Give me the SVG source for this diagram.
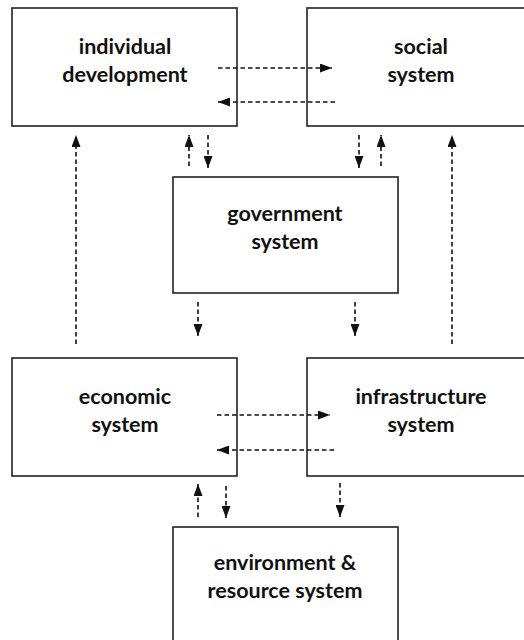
<svg xmlns="http://www.w3.org/2000/svg" width="524" height="640" viewBox="0 0 524 640">
<style>
.box{fill:#fff;stroke:#222;stroke-width:1.6}
.t{font-family:Lato,"Open Sans","Liberation Sans",sans-serif;font-weight:700;font-size:21.5px;fill:#111;text-anchor:middle}
.c{fill:none;stroke:#111;stroke-width:1.6;stroke-dasharray:4.5 3}
</style>
<defs>
<marker id="ah" viewBox="0 0 12 9" refX="12" refY="4.5" markerWidth="12" markerHeight="9" markerUnits="userSpaceOnUse" orient="auto">
<path d="M0,0 L12,4.5 L0,9 Z" fill="#111"/>
</marker>
</defs>
<rect width="524" height="640" fill="#fff"/>
<g id="individual">
<rect class="box" x="12" y="8" width="225" height="118"/>
<text class="t" x="125" y="54">individual</text>
<text class="t" x="125" y="82">development</text>
</g>
<g id="social">
<rect class="box" x="307" y="8" width="226" height="118"/>
<text class="t" x="421" y="54">social</text>
<text class="t" x="421" y="82">system</text>
</g>
<g id="government">
<rect class="box" x="173" y="177" width="225" height="116"/>
<text class="t" x="285" y="221">government</text>
<text class="t" x="285" y="249">system</text>
</g>
<g id="economic">
<rect class="box" x="12" y="358" width="225" height="118"/>
<text class="t" x="125" y="404">economic</text>
<text class="t" x="125" y="432">system</text>
</g>
<g id="infrastructure">
<rect class="box" x="307" y="358" width="226" height="118"/>
<text class="t" x="421" y="404">infrastructure</text>
<text class="t" x="421" y="432">system</text>
</g>
<g id="environment">
<rect class="box" x="173" y="527" width="225" height="125"/>
<text class="t" x="285" y="570">environment &amp;</text>
<text class="t" x="285" y="598">resource system</text>
</g>
<g id="connectors">
<line class="c" x1="218" y1="68" x2="332" y2="68" marker-end="url(#ah)"/>
<line class="c" x1="335" y1="102" x2="218" y2="102" marker-end="url(#ah)"/>
<line class="c" x1="189" y1="166" x2="189" y2="135" marker-end="url(#ah)"/>
<line class="c" x1="208" y1="135" x2="208" y2="168" marker-end="url(#ah)"/>
<line class="c" x1="359" y1="135" x2="359" y2="168" marker-end="url(#ah)"/>
<line class="c" x1="381" y1="166" x2="381" y2="135" marker-end="url(#ah)"/>
<line class="c" x1="76" y1="344" x2="76" y2="135" marker-end="url(#ah)"/>
<line class="c" x1="452" y1="344" x2="452" y2="135" marker-end="url(#ah)"/>
<line class="c" x1="198" y1="302" x2="198" y2="336" marker-end="url(#ah)"/>
<line class="c" x1="355" y1="302" x2="355" y2="336" marker-end="url(#ah)"/>
<line class="c" x1="217" y1="415" x2="330" y2="415" marker-end="url(#ah)"/>
<line class="c" x1="334" y1="450" x2="217" y2="450" marker-end="url(#ah)"/>
<line class="c" x1="198" y1="517" x2="198" y2="484" marker-end="url(#ah)"/>
<line class="c" x1="226" y1="486" x2="226" y2="518" marker-end="url(#ah)"/>
<line class="c" x1="340" y1="483" x2="340" y2="517" marker-end="url(#ah)"/>
</g>
</svg>
